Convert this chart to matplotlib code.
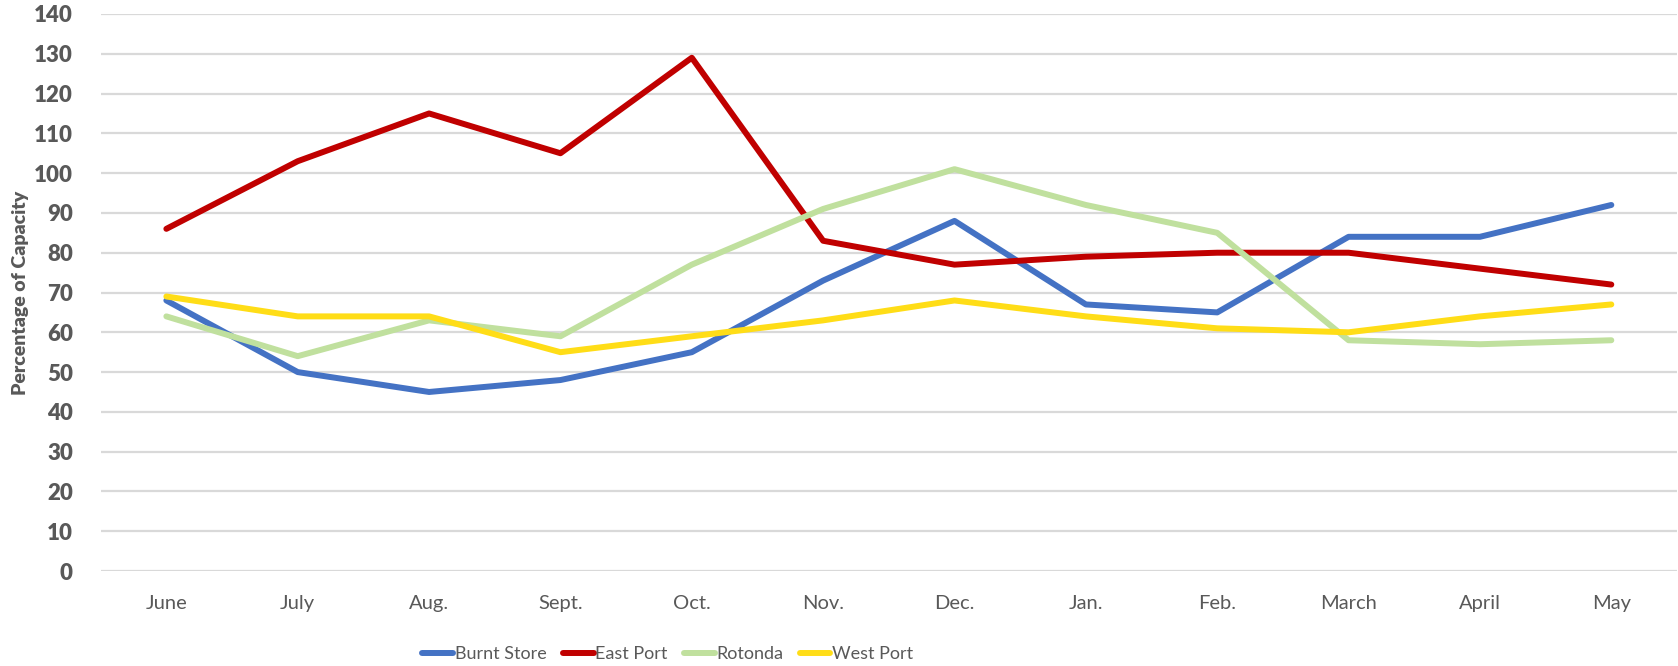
import matplotlib
matplotlib.use('Agg')
import matplotlib.pyplot as plt
import numpy as np

plt.rcParams['font.family'] = ['Lato', 'DejaVu Sans']

months = ['June', 'July', 'Aug.', 'Sept.', 'Oct.', 'Nov.', 'Dec.', 'Jan.', 'Feb.', 'March', 'April', 'May']
burnt_store = [68, 50, 45, 48, 55, 73, 88, 67, 65, 84, 84, 92]
east_port = [86, 103, 115, 105, 129, 83, 77, 79, 80, 80, 76, 72]
rotonda = [64, 54, 63, 59, 77, 91, 101, 92, 85, 58, 57, 58]
west_port = [69, 64, 64, 55, 59, 63, 68, 64, 61, 60, 64, 67]

series = [('Burnt Store', burnt_store, '#4472C4'),
          ('East Port', east_port, '#C00000'),
          ('Rotonda', rotonda, '#C0E09E'),
          ('West Port', west_port, '#FFDD17')]

grey = '#595959'

fig = plt.figure(figsize=(16.78, 6.66), dpi=100)
ax = fig.add_axes([0.060, 0.1426, 0.9394, 0.8364])

x = np.arange(len(months))
for name, vals, col in series:
    ax.plot(x, vals, color=col, lw=4.3, label=name, solid_capstyle='round', solid_joinstyle='round')

ax.set_xlim(-0.5, len(months) - 0.5)
ax.set_ylim(0, 140)
ax.set_yticks(np.arange(0, 141, 10))
ax.set_xticks(x)
ax.set_xticklabels(months)
ax.grid(axis='y', color='#D9D9D9', lw=1.6)
ax.set_axisbelow(True)
for s in ax.spines.values():
    s.set_visible(False)
ax.tick_params(axis='y', length=0, pad=20, labelsize=16, labelcolor=grey)
ax.tick_params(axis='x', length=0, pad=17, labelsize=14.5, labelcolor=grey)
for t in ax.get_yticklabels():
    t.set_fontweight('heavy')

fig.text(0.012, 0.5 + 0.06, 'Percentage of Capacity', rotation=90, ha='center', va='center',
         fontsize=14, fontweight='heavy', color=grey)

leg = fig.legend(loc='center', bbox_to_anchor=(0.398, 0.018), ncol=4, frameon=False,
                 fontsize=13, handlelength=1.7, handletextpad=0.1, columnspacing=0.9)
for t in leg.get_texts():
    t.set_color(grey)

fig.savefig('out.png', dpi=100)
